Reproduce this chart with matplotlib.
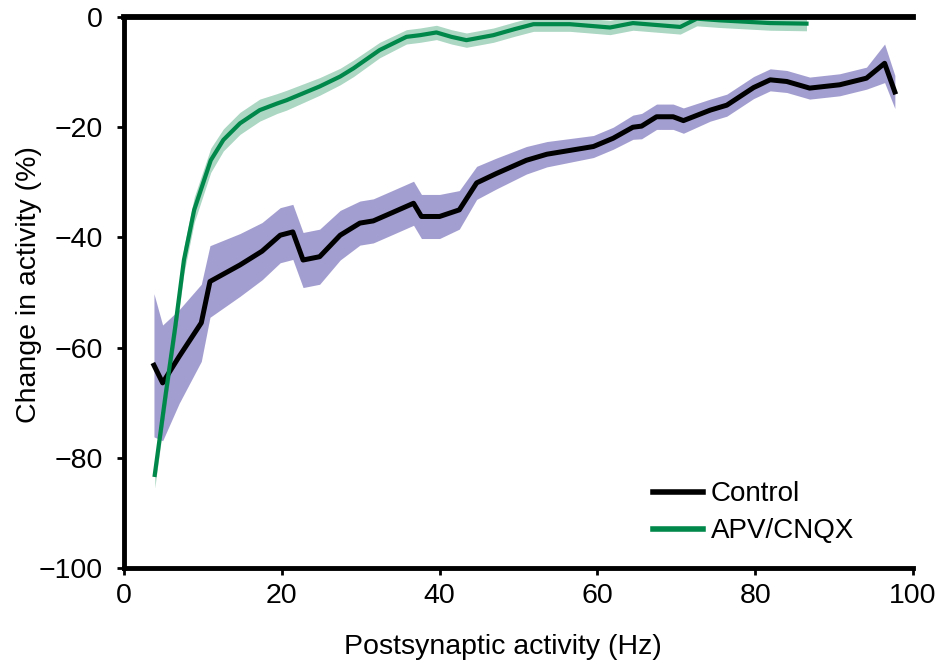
import matplotlib.pyplot as plt

plt.rcParams['font.family'] = ['Liberation Sans', 'DejaVu Sans']

# Control (black line, purple band)
ctrl_x = [3.8, 4.9, 7.0, 9.8, 10.9, 14.7, 17.5, 19.8, 21.4, 22.7, 24.8, 27.4, 29.9,
          31.6, 34.0, 36.7, 37.7, 40.0, 42.5, 44.7, 47.2, 51.0, 53.6, 59.5, 62.0,
          64.5, 65.6, 67.5, 69.6, 70.9, 74.3, 76.4, 79.8, 81.9, 84.0, 86.9, 90.7,
          94.1, 96.4, 97.7]
ctrl_y = [-63.2, -66.4, -61.6, -55.5, -48.0, -45.0, -42.5, -39.6, -39.0, -44.1, -43.5,
          -39.6, -37.4, -37.0, -35.5, -33.8, -36.2, -36.2, -35.0, -30.1, -28.4, -26.0,
          -24.9, -23.5, -22.0, -20.0, -19.8, -18.1, -18.1, -18.8, -16.9, -16.0, -12.8,
          -11.4, -11.7, -12.9, -12.3, -11.1, -8.4, -13.6]
ctrl_err = [13, 10.5, 8.5, 7, 6.5, 5.7, 5.2, 5, 5, 5, 5, 4.5, 4, 4, 4, 4, 4, 4, 3.5,
            3, 2.8, 2.5, 2.3, 2, 2, 2.2, 2.3, 2.3, 2.3, 2.3, 2, 2, 2, 2, 2, 2, 2, 2,
            3.5, 3]

# APV/CNQX (green)
apv_x = [3.9, 5.3, 6.5, 7.6, 8.9, 11.0, 12.6, 14.7, 17.2, 19.4, 20.6, 24.8, 27.4,
         29.1, 32.4, 35.8, 37.5, 39.6, 41.5, 43.4, 46.8, 49.5, 51.9, 56.5, 61.6,
         64.5, 70.5, 72.6, 75.5, 81.9, 86.5]
apv_y = [-83.1, -68.3, -56.2, -44.1, -35.0, -26.0, -22.3, -19.3, -16.9, -15.7, -15.1,
         -12.6, -10.8, -9.3, -6.0, -3.6, -3.3, -2.8, -3.6, -4.2, -3.3, -2.2, -1.3,
         -1.3, -1.9, -1.1, -1.8, -0.3, -0.6, -1.1, -1.2]
apv_err = [2.4, 2.4, 2.4, 2.4, 2.3, 2.2, 2, 2, 2, 1.8, 1.8, 1.6, 1.5, 1.5, 1.4, 1.3,
           1.3, 1.3, 1.3, 1.3, 1.3, 1.3, 1.3, 1.3, 1.3, 1.3, 1.3, 1.3, 1.3, 1.3, 1.3]

green = '#00874a'

fig = plt.figure(figsize=(9.37, 6.70), dpi=100)
ax = fig.add_axes([0.1323, 0.1522, 0.8421, 0.8224])

lo = [y - e for y, e in zip(ctrl_y, ctrl_err)]
hi = [y + e for y, e in zip(ctrl_y, ctrl_err)]
ax.fill_between(ctrl_x, lo, hi, color='#a39ed0', lw=0)
ax.plot(ctrl_x, ctrl_y, color='black', lw=3.6, label='Control')

lo = [y - e for y, e in zip(apv_y, apv_err)]
hi = [y + e for y, e in zip(apv_y, apv_err)]
ax.fill_between(apv_x, lo, hi, color=green, alpha=0.33, lw=0)
ax.plot(apv_x, apv_y, color=green, lw=3.0, label='APV/CNQX')

ax.set_xlim(0, 100)
ax.set_ylim(-100, 0)
ax.set_xticks(range(0, 101, 20))
ax.set_yticks(range(-100, 1, 20))

ax.spines['right'].set_visible(False)
for s in ['left', 'bottom']:
    ax.spines[s].set_linewidth(3.5)
ax.spines['top'].set_linewidth(4.2)
ax.tick_params(axis='both', direction='out', length=5, width=2, labelsize=20.5)
ax.tick_params(axis='y', pad=10)
ax.tick_params(axis='x', pad=6)
ax.tick_params(top=False)

ax.set_xlabel('Postsynaptic activity (Hz)', fontsize=20.5)
ax.set_ylabel('Change in activity (%)', fontsize=20.5)
ax.xaxis.set_label_coords(0.48, -0.119)
ax.yaxis.set_label_coords(-0.104, 0.514)

leg = ax.legend(loc='lower left', bbox_to_anchor=(0.656, 0.023), frameon=False,
                fontsize=20, handlelength=1.8, handletextpad=0.3, labelspacing=0.39,
                borderaxespad=0)
for h in leg.get_lines():
    h.set_linewidth(4)

fig.savefig('out.png', dpi=100)
